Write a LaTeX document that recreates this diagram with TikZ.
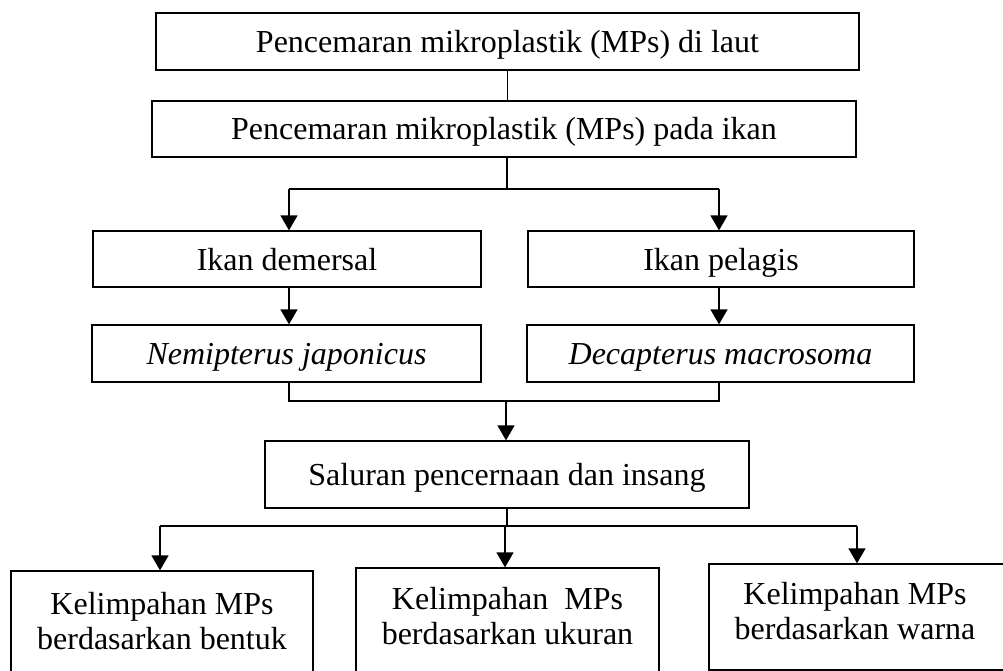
\documentclass[tikz,border=0pt]{standalone}
\usepackage{fontspec}
\setmainfont{Liberation Serif}
\usetikzlibrary{arrows.meta}
\begin{document}
\begin{tikzpicture}[x=1pt,y=-1pt,
  box/.style={draw, line width=1.3pt, rectangle, inner sep=0pt},
  txt/.style={font=\fontsize{32}{35}\selectfont, align=center, inner sep=0pt},
  one/.style={text height=22pt, text depth=0pt},
  conn/.style={line width=1.5pt},
  arr/.style={line width=1.5pt, -{Triangle[width=17pt,length=15pt]}}]
\clip (0,0) rectangle (1003,671);
\fill[white] (0,0) rectangle (1003,671);
% boxes
\node[box, txt, one, minimum width=703pt, minimum height=57pt] (b1) at (507.5,41.5) {Pencemaran mikroplastik (MPs) di laut};
\node[box, txt, one, minimum width=704pt, minimum height=56pt] (b2) at (504,129) {Pencemaran mikroplastik (MPs) pada ikan};
\node[box, txt, one, minimum width=388pt, minimum height=56pt] (d1) at (287,259) {Ikan demersal};
\node[box, txt, one, minimum width=386pt, minimum height=56pt] (p1) at (721,259) {Ikan pelagis};
\node[box, txt, one, minimum width=389pt, minimum height=57pt] (n1) at (286.5,353.5) {\itshape Nemipterus japonicus};
\node[box, txt, one, minimum width=387pt, minimum height=57pt] (dc) at (720.5,353.5) {\itshape Decapterus macrosoma};
\node[box, txt, one, minimum width=484pt, minimum height=67pt] (sal) at (507,474.5) {Saluran pencernaan dan insang};
\node[box, minimum width=302pt, minimum height=119pt] (k1) at (162,630.5) {};
\node[box, minimum width=303pt, minimum height=122pt] (k2) at (507.5,629) {};
\node[box, minimum width=301pt, minimum height=106pt] (k3) at (859.5,617) {};
\node[txt] (k1t) at (162,621) {Kelimpahan MPs\\berdasarkan bentuk};
\node[txt] (k2t) at (507.5,616) {Kelimpahan\ \ MPs\\berdasarkan ukuran};
\node[txt] (k3t) at (855,611) {Kelimpahan MPs\\berdasarkan warna};
% junction coordinates
\coordinate (j1) at (507,189);
\coordinate (sL) at (289,189);
\coordinate (sR) at (719,189);
\coordinate (cL) at (289,401);
\coordinate (cR) at (719,401);
\coordinate (cM) at (506,401);
\coordinate (tM) at (507,526);
\coordinate (tL) at (160,526);
\coordinate (tC) at (505,526);
\coordinate (tR) at (857,526);
% connectors
\draw[conn] (b1.south) -- (b1.south |- b2.north);
\draw[conn] (j1 |- b2.south) -- (j1);
\draw[conn] (sL) -- (sR);
\draw[arr] (sL) -- (sL |- d1.north);
\draw[arr] (sR) -- (sR |- p1.north);
\draw[arr] (sL |- d1.south) -- (sL |- n1.north);
\draw[arr] (sR |- p1.south) -- (sR |- dc.north);
\draw[conn] (cL |- n1.south) -- (cL) -- (cR) -- (cR |- dc.south);
\draw[arr] (cM) -- (cM |- sal.north);
\draw[conn] (tM |- sal.south) -- (tM);
\draw[conn] (tL) -- (tR);
\draw[arr] (tL) -- (tL |- k1.north);
\draw[arr] (tC) -- (tC |- k2.north);
\draw[arr] (tR) -- (tR |- k3.north);
\end{tikzpicture}
\end{document}
